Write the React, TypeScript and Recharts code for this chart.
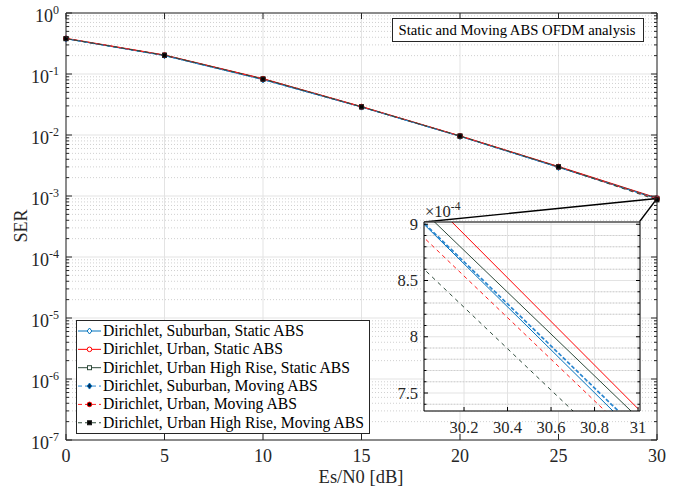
import React from 'react';
import { LineChart, Line, XAxis, YAxis, CartesianGrid, ReferenceLine } from 'recharts';

// Es/N0 in dB
const esN0 = [0, 5, 10, 15, 20, 25, 30];

// SER per scenario
const serSuburbanStatic = [0.378, 0.2, 0.081, 0.0287, 0.0095, 0.00295, 0.000903];
const serUrbanStatic = [0.385, 0.205, 0.084, 0.0293, 0.0097, 0.00305, 0.00093];
const serHighRiseStatic = [0.38, 0.203, 0.083, 0.029, 0.0096, 0.003, 0.000914];
const serSuburbanMoving = [0.378, 0.2, 0.0808, 0.0287, 0.0095, 0.00295, 0.000904];
const serUrbanMoving = [0.381, 0.203, 0.083, 0.029, 0.0096, 0.003, 0.000891];
const serHighRiseMoving = [0.38, 0.203, 0.0825, 0.0289, 0.0096, 0.003, 0.000863];

// zoomed window 30..31 dB
const zoomEsN0 = [30, 31];
const zoomSuburbanStatic = [9.03e-4, 7.12e-4];
const zoomUrbanStatic = [9.3e-4, 7.36e-4];
const zoomHighRiseStatic = [9.14e-4, 7.28e-4];
const zoomSuburbanMoving = [9.04e-4, 7.17e-4];
const zoomUrbanMoving = [8.91e-4, 7.06e-4];
const zoomHighRiseMoving = [8.63e-4, 6.79e-4];

const seriesNames = [
  'Dirichlet, Suburban, Static ABS',
  'Dirichlet, Urban, Static ABS',
  'Dirichlet, Urban High Rise, Static ABS',
  'Dirichlet, Suburban, Moving ABS',
  'Dirichlet, Urban, Moving ABS',
  'Dirichlet, Urban High Rise, Moving ABS',
];

const xTicks = [0, 5, 10, 15, 20, 25, 30];
const decadeTicks = [1e-7, 1e-6, 1e-5, 1e-4, 1e-3, 1e-2, 1e-1, 1];
const minorTicks = decadeTicks.slice(0, -1).flatMap((d) => [2, 3, 4, 5, 6, 7, 8, 9].map((m) => m * d));
const allYTicks = [...decadeTicks, ...minorTicks];

const zoomXTicks = [30.2, 30.4, 30.6, 30.8, 31];
const zoomYTicks = [7.5e-4, 8e-4, 8.5e-4, 9e-4];
const zoomYMinor = [7.4e-4, 7.6e-4, 7.7e-4, 7.8e-4, 7.9e-4, 8.1e-4, 8.2e-4, 8.3e-4, 8.4e-4, 8.6e-4, 8.7e-4, 8.8e-4, 8.9e-4];
const zoomYAll = [...zoomYTicks, ...zoomYMinor];

const keys = ['s1', 's2', 's3', 's4', 's5', 's6'];
const mainSeries = [serSuburbanStatic, serUrbanStatic, serHighRiseStatic, serSuburbanMoving, serUrbanMoving, serHighRiseMoving];
const zoomSeries = [zoomSuburbanStatic, zoomUrbanStatic, zoomHighRiseStatic, zoomSuburbanMoving, zoomUrbanMoving, zoomHighRiseMoving];

const mainData = esN0.map((x, i) => {
  const row: any = { x };
  keys.forEach((k, j) => (row[k] = mainSeries[j][i]));
  return row;
});
const zoomData = zoomEsN0.map((x, i) => {
  const row: any = { x };
  keys.forEach((k, j) => (row[k] = zoomSeries[j][i]));
  return row;
});

type Kind = 'diamond' | 'circle' | 'square';
const styles: { color: string; dash?: string; width: number; marker: Kind; fill: string; edge: string }[] = [
  { color: '#0072BD', width: 1, marker: 'diamond', fill: 'none', edge: '#0072BD' },
  { color: '#FF0000', width: 1, marker: 'circle', fill: 'none', edge: '#FF0000' },
  { color: '#2E4A3A', width: 1, marker: 'square', fill: 'none', edge: '#2E4A3A' },
  { color: '#2B86CF', width: 1.7, dash: '4 2', marker: 'diamond', fill: '#0A2F5A', edge: '#0072BD' },
  { color: '#FF2020', width: 1, dash: '4 3.5', marker: 'circle', fill: '#000000', edge: '#FF0000' },
  { color: '#2E4A3A', width: 1, dash: '4 4', marker: 'square', fill: '#000000', edge: '#1A1A1A' },
];

const axisColor = '#262626';
const font = '"Liberation Serif", "Times New Roman", serif';

function marker(kind: Kind, cx: number, cy: number, edge: string, fill: string, key?: any) {
  if (kind === 'diamond')
    return (
      <polygon key={key} points={`${cx},${cy - 3} ${cx + 2.3},${cy} ${cx},${cy + 3} ${cx - 2.3},${cy}`} stroke={edge} fill={fill} strokeWidth={1} />
    );
  if (kind === 'circle') return <circle key={key} cx={cx} cy={cy} r={2.3} stroke={edge} fill={fill} strokeWidth={1} />;
  return <rect key={key} x={cx - 2} y={cy - 2} width={4} height={4} stroke={edge} fill={fill} strokeWidth={1} />;
}

const isDecade = (v: number) => Math.abs(Math.log10(v) - Math.round(Math.log10(v))) < 1e-6;

const LeftLogTick = (props: any) => {
  const { x, y, payload } = props;
  const v = payload.value;
  const major = isDecade(v);
  return (
    <g>
      <line x1={x} x2={x + (major ? 6 : 3)} y1={y} y2={y} stroke={axisColor} />
      {major && (
        <text x={x - 7} y={y + 9} textAnchor="end" fill={axisColor} fontSize={18} fontFamily={font}>
          <tspan>10</tspan>
          <tspan dy={-8} fontSize={12}>{Math.round(Math.log10(v))}</tspan>
        </text>
      )}
    </g>
  );
};

const RightLogTick = (props: any) => {
  const { x, y, payload } = props;
  const major = isDecade(payload.value);
  return <line x1={x} x2={x - (major ? 6 : 3)} y1={y} y2={y} stroke={axisColor} />;
};

const BottomTick = (props: any) => {
  const { x, y, payload } = props;
  return (
    <g>
      <line x1={x} x2={x} y1={y} y2={y - 6} stroke={axisColor} />
      <text x={x} y={y + 22} textAnchor="middle" fill={axisColor} fontSize={18} fontFamily={font}>
        {payload.value}
      </text>
    </g>
  );
};

const TopTick = (props: any) => {
  const { x, y } = props;
  return <line x1={x} x2={x} y1={y} y2={y + 6} stroke={axisColor} />;
};

const isZoomMajor = (v: number) => zoomYTicks.some((t) => Math.abs(t - v) < 1e-9);

const ZoomYTick = (props: any) => {
  const { x, y, payload } = props;
  const major = isZoomMajor(payload.value);
  return (
    <g>
      <line x1={x} x2={x + (major ? 4 : 2.5)} y1={y} y2={y} stroke="#000" />
      {major && (
        <text x={x - 6} y={y + 5.5} textAnchor="end" fill={axisColor} fontSize={16.5} fontFamily={font}>
          {Math.round(payload.value * 1e5) / 10}
        </text>
      )}
    </g>
  );
};

const ZoomRightTick = (props: any) => {
  const { x, y, payload } = props;
  const major = isZoomMajor(payload.value);
  return <line x1={x} x2={x - (major ? 4 : 2.5)} y1={y} y2={y} stroke="#000" />;
};

const ZoomXTick = (props: any) => {
  const { x, y, payload } = props;
  return (
    <g>
      <line x1={x} x2={x} y1={y} y2={y - 4} stroke="#000" />
      <text x={x} y={y + 22} textAnchor="middle" fill={axisColor} fontSize={16.5} fontFamily={font}>
        {Math.round(payload.value * 10) / 10}
      </text>
    </g>
  );
};

const dotFor = (i: number) => (props: any) => {
  const { cx, cy, index } = props;
  if (cx == null || cy == null) return <g key={index} />;
  return marker(styles[i].marker, cx, cy, styles[i].edge, styles[i].fill, index);
};

// zoom source point and the inset's top corners (main-axis coordinates)
const zoomSource = { x: 30, y: 9.1e-4 };
const insetCornerLeft = { x: 18.17, y: 3.75e-4 };
const insetCornerRight = { x: 29.1, y: 3.75e-4 };

export default function App() {
  return (
    <div style={{ position: 'absolute', left: 0, top: 0, width: 682, height: 490, background: '#fff' }}>
      <LineChart width={682} height={490} data={mainData} margin={{ top: 12, right: 24, left: 10, bottom: 0 }}>
        <CartesianGrid horizontal={false} stroke="#e3e3e3" />
        <CartesianGrid vertical={false} horizontalValues={decadeTicks} stroke="#e3e3e3" />
        <CartesianGrid vertical={false} horizontalValues={minorTicks} stroke="#d0d0d0" strokeDasharray="1 2" />
        <XAxis
          type="number"
          dataKey="x"
          domain={[0, 30]}
          ticks={xTicks}
          interval={0}
          height={50}
          tickSize={0}
          tickMargin={0}
          tickLine={false}
          tick={<BottomTick />}
          axisLine={{ stroke: axisColor }}
        />
        <XAxis
          xAxisId="top"
          orientation="top"
          type="number"
          dataKey="x"
          domain={[0, 30]}
          ticks={xTicks}
          interval={0}
          height={1}
          tickSize={0}
          tickMargin={0}
          tickLine={false}
          tick={<TopTick />}
          axisLine={{ stroke: axisColor }}
        />
        <YAxis
          scale="log"
          domain={[1e-7, 1]}
          ticks={allYTicks}
          interval={0}
          width={56}
          tickSize={0}
          tickMargin={0}
          tickLine={false}
          tick={<LeftLogTick />}
          axisLine={{ stroke: axisColor }}
          allowDataOverflow
        />
        <YAxis
          yAxisId="right"
          orientation="right"
          scale="log"
          domain={[1e-7, 1]}
          ticks={allYTicks}
          interval={0}
          width={1}
          tickSize={0}
          tickMargin={0}
          tickLine={false}
          tick={<RightLogTick />}
          axisLine={{ stroke: axisColor }}
          allowDataOverflow
        />
        {keys.map((k, i) => (
          <Line
            key={k}
            type="linear"
            dataKey={k}
            stroke={styles[i].color}
            strokeWidth={1}
            strokeDasharray={styles[i].dash}
            dot={dotFor(i)}
            activeDot={false}
            isAnimationActive={false}
          />
        ))}
        <ReferenceLine segment={[zoomSource, insetCornerLeft]} stroke="#000" strokeWidth={1.3} />
        <ReferenceLine segment={[zoomSource, insetCornerRight]} stroke="#000" strokeWidth={1.3} />
      </LineChart>

      <div style={{ position: 'absolute', left: 380, top: 196 }}>
        <LineChart width={290} height={250} data={zoomData} margin={{ top: 25, right: 29, left: 14, bottom: 0 }}>
          <CartesianGrid fill="#fff" fillOpacity={1} stroke="#e3e3e3" />
          <CartesianGrid vertical={false} horizontalValues={zoomYMinor} stroke="#d0d0d0" strokeDasharray="1 2" />
          <XAxis
            type="number"
            dataKey="x"
            domain={[30.016, 31.009]}
            allowDataOverflow
            ticks={zoomXTicks}
            interval={0}
            height={35}
            tickSize={0}
            tickMargin={0}
            tickLine={false}
            tick={<ZoomXTick />}
            axisLine={{ stroke: '#000' }}
          />
          <XAxis
            xAxisId="top"
            orientation="top"
            type="number"
            dataKey="x"
            domain={[30.016, 31.009]}
            allowDataOverflow
            height={1}
            tick={false}
            tickLine={false}
            axisLine={{ stroke: '#000' }}
          />
          <YAxis
            domain={[7.34e-4, 9.02e-4]}
            allowDataOverflow
            ticks={zoomYAll}
            interval={0}
            width={30}
            tickSize={0}
            tickMargin={0}
            tickLine={false}
            tick={<ZoomYTick />}
            axisLine={{ stroke: '#000' }}
          />
          <YAxis
            yAxisId="right"
            orientation="right"
            domain={[7.34e-4, 9.02e-4]}
            allowDataOverflow
            ticks={zoomYAll}
            interval={0}
            width={1}
            tickSize={0}
            tickMargin={0}
            tickLine={false}
            tick={<ZoomRightTick />}
            axisLine={{ stroke: '#000' }}
          />
          {keys.map((k, i) => (
            <Line
              key={k}
              type="linear"
              dataKey={k}
              stroke={styles[i].color}
              strokeWidth={styles[i].width}
              strokeDasharray={styles[i].dash}
              dot={false}
              activeDot={false}
              isAnimationActive={false}
            />
          ))}
        </LineChart>
      </div>

      <svg width={682} height={490} style={{ position: 'absolute', left: 0, top: 0, pointerEvents: 'none' }} fontFamily={font}>
        <text transform="translate(27,226) rotate(-90)" textAnchor="middle" fontSize={18} fill={axisColor}>
          SER
        </text>
        <text x={361} y={483} textAnchor="middle" fontSize={18.5} fill={axisColor}>
          Es/N0 [dB]
        </text>
        <text x={425} y={217} fontSize={16.5} fill={axisColor}>
          <tspan>×10</tspan>
          <tspan dy={-7} fontSize={11.5}>-4</tspan>
        </text>

        <rect x={392.5} y={18.5} width={251} height={23} fill="#fff" stroke={axisColor} />
        <text x={517} y={35} textAnchor="middle" fontSize={14.7} fill="#000">
          Static and Moving ABS OFDM analysis
        </text>

        <rect x={76.5} y={320.5} width={293} height={113} fill="#fff" stroke={axisColor} />
        {seriesNames.map((name, i) => {
          const cy = 331 + i * 18.35;
          const s = styles[i];
          return (
            <g key={name}>
              <line x1={78} x2={101} y1={cy} y2={cy} stroke={s.color} strokeDasharray={s.dash ? '4 3' : undefined} />
              {marker(s.marker, 89.5, cy, s.edge, s.fill === 'none' ? '#fff' : s.fill)}
              <text x={103} y={cy + 5} fontSize={15.7} fill="#000">
                {name}
              </text>
            </g>
          );
        })}
      </svg>
    </div>
  );
}
